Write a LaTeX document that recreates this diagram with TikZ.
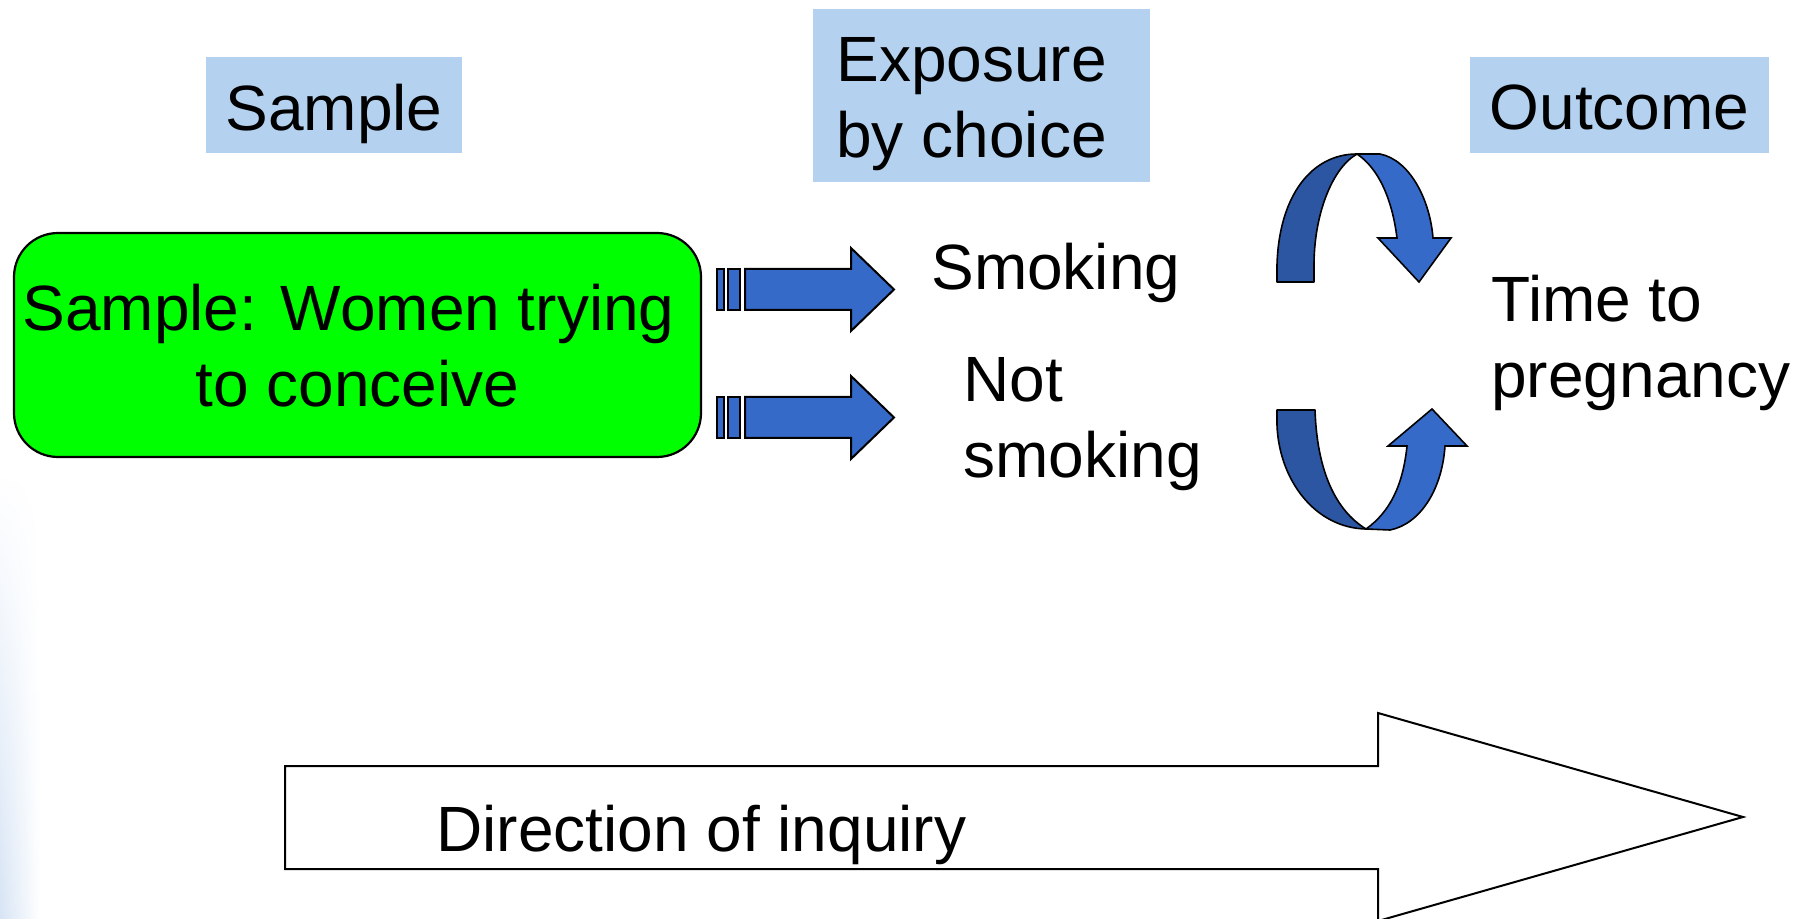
\documentclass[tikz,border=0pt]{standalone}
\usepackage{fontspec}
\setmainfont{Liberation Sans}
\usetikzlibrary{fadings}
\definecolor{lblue}{RGB}{180,210,240}
\definecolor{boxgreen}{RGB}{0,255,0}
\definecolor{arrlight}{RGB}{54,106,200}
\definecolor{arrdark}{RGB}{44,86,162}
\definecolor{edgeblue}{RGB}{215,228,245}
\tikzset{
  txt/.style={font=\fontsize{32}{38.25}\selectfont, inner sep=0pt, align=left},
  lab/.style={fill=lblue, inner sep=0pt},
  blockarrow/.style={fill=arrlight, draw=black, line width=1pt, line join=miter},
  ribbonback/.style={fill=arrdark, draw=black, line width=0.8pt, line join=round},
  ribbonfront/.style={fill=arrlight, draw=black, line width=0.8pt, line join=miter},
  bigarrow/.style={draw=black, fill=white, line width=1pt, line join=miter},
}
\begin{document}
\begin{tikzpicture}[x=0.5pt,y=-0.5pt]
\path[use as bounding box] (0,0) rectangle (1800,919);
% faint blue edge at the left
\shade[left color=edgeblue, right color=white, path fading=north] (0,470) rectangle (40,919);

% header labels
\node[lab, minimum width=128pt, minimum height=48pt] (samplebox) at (334,105) {};
\node[txt, anchor=base] (sampletxt) at (334,131) {Sample};
\node[lab, minimum width=168.5pt, minimum height=86.5pt] (expbox) at (981.5,95.5) {};
\node[txt, anchor=base west] (exptxt) at (836,158) {Exposure\\by choice};
\node[lab, minimum width=149.5pt, minimum height=48pt] (outbox) at (1619.5,105) {};
\node[txt, anchor=base] (outtxt) at (1619.5,130) {Outcome};

% sample box
\node[draw=black, fill=boxgreen, rounded corners=22pt, line width=1.1pt,
      minimum width=343.5pt, minimum height=112pt] (greenbox) at (357.5,345) {};
\node[txt, align=center, anchor=base] (greentxt) at (357.5,407) {Sample: Women trying\hbox to 9pt{}\\to conceive};

% exposures
\node[txt, anchor=base west] (smoke) at (931,290) {Smoking};
\node[txt, anchor=base west] (nosmoke) at (963,478) {Not\\smoking};

% outcome
\node[txt, anchor=base west] (ttp) at (1491,398) {Time to\\pregnancy};

% striped block arrows
\foreach \c in {289.5,417.5}{
  \draw[blockarrow] (717,\c-20.5) rectangle (724,\c+20.5);
  \draw[blockarrow] (728,\c-20.5) rectangle (740,\c+20.5);
  \draw[blockarrow] (745,\c-20.5) -- (851,\c-20.5) -- (851,\c-41.5) -- (894,\c)
        -- (851,\c+41.5) -- (851,\c+20.5) -- (745,\c+20.5) -- cycle;
}

% curved arrow (top)
\draw[ribbonback] (1277,282) -- (1277,265) .. controls (1279,195) and (1312,154) .. (1357,154)
      .. controls (1332,168) and (1314,215) .. (1314,265) -- (1314,282) -- cycle;
\draw[ribbonfront] (1357,154) -- (1380,154) .. controls (1410,160) and (1430,200) .. (1433,238)
      -- (1451,238) -- (1419,282) -- (1378,238) -- (1397,238)
      .. controls (1392,198) and (1378,168) .. (1357,154) -- cycle;

% curved arrow (bottom)
\draw[ribbonback] (1277,410) -- (1315,410) .. controls (1317,470) and (1335,510) .. (1366,529)
      .. controls (1315,528) and (1279,480) .. (1277,425) -- cycle;
\draw[ribbonfront] (1366,529) -- (1390,530) .. controls (1420,524) and (1442,490) .. (1445,446)
      -- (1467,446) -- (1432,409) -- (1388,446) -- (1407,446)
      .. controls (1403,485) and (1390,512) .. (1366,529) -- cycle;

% direction of inquiry
\draw[bigarrow] (285,766) -- (1378,766) -- (1378,713) -- (1743,817) -- (1378,921)
      -- (1378,869) -- (285,869) -- cycle;
\node[txt, anchor=base west] (dirtxt) at (436,851) {Direction of inquiry};
\end{tikzpicture}
\end{document}
